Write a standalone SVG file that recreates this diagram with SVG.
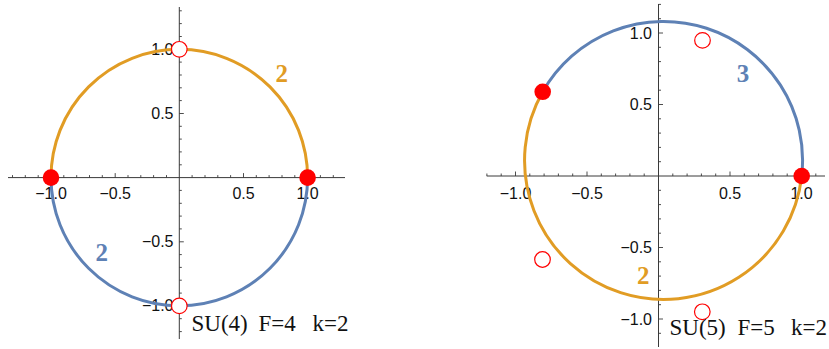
<svg xmlns="http://www.w3.org/2000/svg" width="829" height="349" viewBox="0 0 829 349">
<style>
.ax{stroke:#3a3a3a;stroke-width:1;fill:none}
.tk{stroke:#3a3a3a;stroke-width:0.9;fill:none}
.lb{font-family:"Liberation Sans",Arial,sans-serif;font-size:16px;fill:#111}
.lx{text-anchor:middle}
.ly{text-anchor:end}
.or{stroke:#E19C24;stroke-width:3;fill:none}
.bl{stroke:#5E81B5;stroke-width:3;fill:none}
.dot{fill:#FF0000}
.hol{fill:#fff;stroke:#FF0000;stroke-width:1.2}
.num{font-family:"Liberation Serif","Times New Roman",serif;font-size:25px;font-weight:bold;text-anchor:middle}
.cap{font-family:"Liberation Serif","Times New Roman",serif;font-size:23px;fill:#111}
</style>
<rect width="829" height="349" fill="#fff"/>

<g id="left-plot">
  <g id="left-axes">
    <path class="ax" d="M8,177.6H345M179.3,7V339"/>
    <path class="tk" d="M12.5,177.6v-2.5M25.3,177.6v-2.5M38.2,177.6v-2.5M51,177.6v-4.5M63.8,177.6v-2.5M76.7,177.6v-2.5M89.5,177.6v-2.5M102.3,177.6v-2.5M115.2,177.6v-4.5M128,177.6v-2.5M140.8,177.6v-2.5M153.6,177.6v-2.5M166.5,177.6v-2.5M192.1,177.6v-2.5M205,177.6v-2.5M217.8,177.6v-2.5M230.6,177.6v-2.5M243.5,177.6v-4.5M256.3,177.6v-2.5M269.1,177.6v-2.5M282,177.6v-2.5M294.8,177.6v-2.5M307.6,177.6v-4.5M320.4,177.6v-2.5M333.3,177.6v-2.5"/>
    <path class="tk" d="M179.3,10.8h2.5M179.3,23.6h2.5M179.3,36.5h2.5M179.3,49.3h4.5M179.3,62.1h2.5M179.3,75h2.5M179.3,87.8h2.5M179.3,100.6h2.5M179.3,113.5h4.5M179.3,126.3h2.5M179.3,139.1h2.5M179.3,151.9h2.5M179.3,164.8h2.5M179.3,190.4h2.5M179.3,203.3h2.5M179.3,216.1h2.5M179.3,228.9h2.5M179.3,241.8h4.5M179.3,254.6h2.5M179.3,267.4h2.5M179.3,280.2h2.5M179.3,293.1h2.5M179.3,305.9h4.5M179.3,318.7h2.5M179.3,331.6h2.5"/>
    <text class="lb lx" x="51" y="199">−1.0</text>
    <text class="lb lx" x="115.2" y="199">−0.5</text>
    <text class="lb lx" x="243.5" y="199">0.5</text>
    <text class="lb lx" x="307.6" y="199">1.0</text>
    <text class="lb ly" x="173.5" y="55">1.0</text>
    <text class="lb ly" x="173.5" y="119">0.5</text>
    <text class="lb ly" x="173.5" y="247.3">−0.5</text>
    <text class="lb ly" x="173.5" y="311.4">−1.0</text>
  </g>
  <g id="left-arcs">
    <path id="left-arc-orange" class="or" d="M51,177.6A128.3,128.3 0 0 1 307.6,177.6"/>
    <path id="left-arc-blue" class="bl" d="M307.6,177.6A128.3,128.3 0 0 1 51,177.6"/>
  </g>
  <g id="left-points">
    <circle class="dot" cx="51" cy="177.6" r="8.3"/>
    <circle class="dot" cx="307.6" cy="177.6" r="8.3"/>
    <circle class="hol" cx="179.3" cy="49.3" r="7.8"/>
    <circle class="hol" cx="179.3" cy="305.9" r="7.8"/>
  </g>
  <text class="num" x="281.7" y="82" fill="#E19C24">2</text>
  <text class="num" x="101.7" y="260.5" fill="#5E81B5">2</text>
  <g id="left-caption" class="cap">
    <text x="191.5" y="331">SU(4)</text>
    <text x="258.5" y="331">F=4</text>
    <text x="312.5" y="331">k=2</text>
  </g>
</g>

<g id="right-plot">
  <g id="right-axes">
    <path class="ax" d="M486.7,176H825M658.5,4V347"/>
    <path class="tk" d="M486.9,176v-2.5M501.2,176v-2.5M515.5,176v-4.5M529.8,176v-2.5M544.1,176v-2.5M558.4,176v-2.5M572.7,176v-2.5M587,176v-4.5M601.3,176v-2.5M615.6,176v-2.5M629.9,176v-2.5M644.2,176v-2.5M672.8,176v-2.5M687.1,176v-2.5M701.4,176v-2.5M715.7,176v-2.5M730,176v-4.5M744.3,176v-2.5M758.6,176v-2.5M772.9,176v-2.5M787.2,176v-2.5M801.5,176v-4.5M815.8,176v-2.5"/>
    <path class="tk" d="M658.5,4.4h2.5M658.5,18.7h2.5M658.5,33h4.5M658.5,47.3h2.5M658.5,61.6h2.5M658.5,75.9h2.5M658.5,90.2h2.5M658.5,104.5h4.5M658.5,118.8h2.5M658.5,133.1h2.5M658.5,147.4h2.5M658.5,161.7h2.5M658.5,190.3h2.5M658.5,204.6h2.5M658.5,218.9h2.5M658.5,233.2h2.5M658.5,247.5h4.5M658.5,261.8h2.5M658.5,276.1h2.5M658.5,290.4h2.5M658.5,304.7h2.5M658.5,319h4.5M658.5,333.3h2.5"/>
    <text class="lb lx" x="515.5" y="198.5">−1.0</text>
    <text class="lb lx" x="587" y="198.5">−0.5</text>
    <text class="lb lx" x="730" y="198.5">0.5</text>
    <text class="lb lx" x="801.5" y="198.5">1.0</text>
    <text class="lb ly" x="652" y="38.6">1.0</text>
    <text class="lb ly" x="652" y="110">0.5</text>
    <text class="lb ly" x="652" y="253">−0.5</text>
    <text class="lb ly" x="652" y="324.5">−1.0</text>
  </g>
  <g id="right-arcs">
    <path id="right-arc-blue" class="bl" d="M801.7,176A139,139 0 0 0 542.7,91.8"/>
    <path id="right-arc-orange" class="or" d="M542.7,91.8A139,139 0 1 0 801.7,176"/>
  </g>
  <g id="right-points">
    <circle class="dot" cx="801.7" cy="176" r="8.3"/>
    <circle class="dot" cx="542.7" cy="91.8" r="8.3"/>
    <circle class="hol" cx="702.5" cy="40.4" r="7.8"/>
    <circle class="hol" cx="542.5" cy="259.5" r="7.8"/>
    <circle class="hol" cx="702.3" cy="311.8" r="7.8"/>
  </g>
  <text class="num" x="743" y="82" fill="#5E81B5">3</text>
  <text class="num" x="643.3" y="283.5" fill="#E19C24">2</text>
  <g id="right-caption" class="cap">
    <text x="669.5" y="335">SU(5)</text>
    <text x="737.5" y="335">F=5</text>
    <text x="791" y="335">k=2</text>
  </g>
</g>
</svg>
